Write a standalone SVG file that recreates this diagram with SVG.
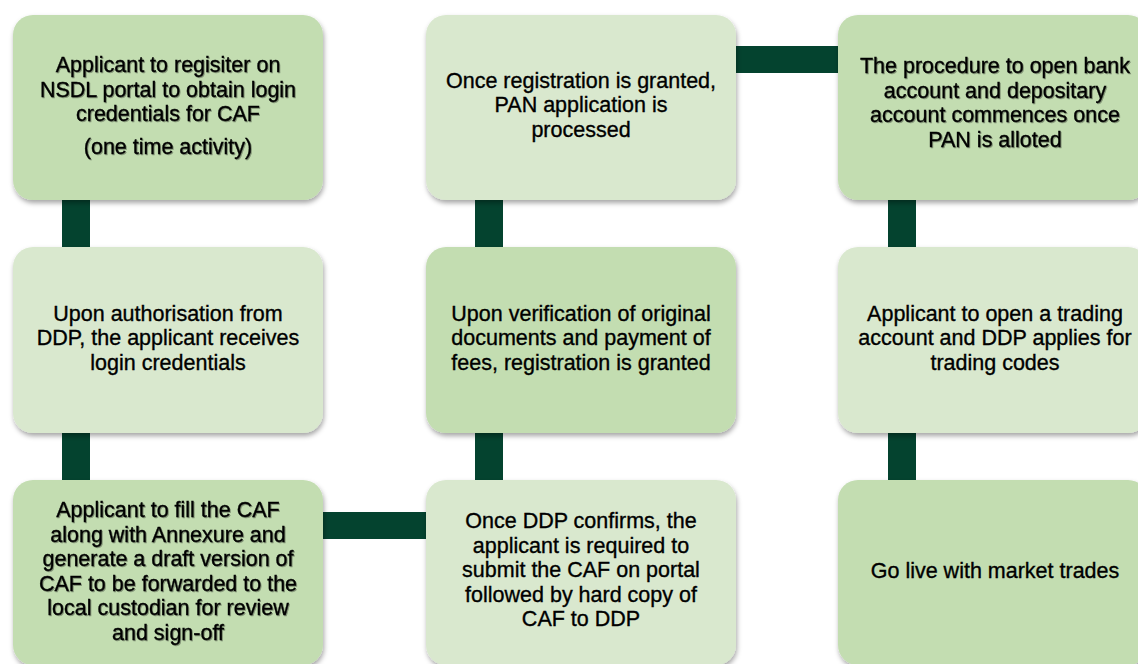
<svg xmlns="http://www.w3.org/2000/svg" width="1138" height="664" viewBox="0 0 1138 664">
<defs>
<filter id="sh" x="-10%" y="-10%" width="125%" height="130%">
<feDropShadow dx="1" dy="3" stdDeviation="2.5" flood-color="#000" flood-opacity="0.35"/>
</filter>
<filter id="tsh" x="-5%" y="-10%" width="110%" height="120%">
<feDropShadow dx="1" dy="1" stdDeviation="0.6" flood-color="#000" flood-opacity="0.35"/>
</filter>
<style>
.dark{fill:#C3DDB1;filter:url(#sh)}
.light{fill:#D9E8CE;filter:url(#sh)}
.conn{fill:#04432F}
text{font-family:"Liberation Sans",Arial,sans-serif;font-size:21.5px;fill:#000;stroke:#000;stroke-width:0.35;text-anchor:middle}
.ts{filter:url(#tsh)}
</style>
</defs>
<rect width="1138" height="664" fill="#fff"/>
<g id="connectors">
<rect class="conn" x="62" y="195" width="28" height="57"/>
<rect class="conn" x="62" y="428" width="28" height="57"/>
<rect class="conn" x="475" y="195" width="28" height="57"/>
<rect class="conn" x="475" y="428" width="28" height="57"/>
<rect class="conn" x="888" y="195" width="28" height="57"/>
<rect class="conn" x="888" y="428" width="28" height="57"/>
<rect class="conn" x="730" y="46" width="114" height="27"/>
<rect class="conn" x="318" y="512" width="114" height="27"/>
</g>
<g id="n1">
<rect class="dark" x="13" y="15" width="310" height="185" rx="20"/>
<text class="ts"><tspan x="168" y="72">Applicant to regisiter on</tspan><tspan x="168" y="96.5">NSDL portal to obtain login</tspan><tspan x="168" y="121">credentials for CAF</tspan><tspan x="168" y="154">(one time activity)</tspan></text>
</g>
<g id="n2">
<rect class="light" x="13" y="247" width="310" height="186" rx="20"/>
<text><tspan x="168" y="320.5">Upon authorisation from</tspan><tspan x="168" y="345">DDP, the applicant receives</tspan><tspan x="168" y="369.5">login credentials</tspan></text>
</g>
<g id="n3">
<rect class="dark" x="13" y="480" width="310" height="185" rx="20"/>
<text class="ts"><tspan x="168" y="517">Applicant to fill the CAF</tspan><tspan x="168" y="541.5">along with Annexure and</tspan><tspan x="168" y="566">generate a draft version of</tspan><tspan x="168" y="590.5">CAF to be forwarded to the</tspan><tspan x="168" y="615">local custodian for review</tspan><tspan x="168" y="639.5">and sign-off</tspan></text>
</g>
<g id="n4">
<rect class="light" x="426" y="15" width="310" height="185" rx="20"/>
<text><tspan x="581" y="87.5">Once registration is granted,</tspan><tspan x="581" y="112">PAN application is</tspan><tspan x="581" y="136.5">processed</tspan></text>
</g>
<g id="n5">
<rect class="dark" x="426" y="247" width="310" height="186" rx="20"/>
<text><tspan x="581" y="320.5">Upon verification of original</tspan><tspan x="581" y="345">documents and payment of</tspan><tspan x="581" y="369.5">fees, registration is granted</tspan></text>
</g>
<g id="n6">
<rect class="light" x="426" y="480" width="310" height="185" rx="20"/>
<text><tspan x="581" y="528">Once DDP confirms, the</tspan><tspan x="581" y="552.5">applicant is required to</tspan><tspan x="581" y="577">submit the CAF on portal</tspan><tspan x="581" y="601.5">followed by hard copy of</tspan><tspan x="581" y="626">CAF to DDP</tspan></text>
</g>
<g id="n7">
<rect class="dark" x="838" y="15" width="310" height="185" rx="20"/>
<text class="ts"><tspan x="995" y="73">The procedure to open bank</tspan><tspan x="995" y="97.5">account and depositary</tspan><tspan x="995" y="122">account commences once</tspan><tspan x="995" y="146.5">PAN is alloted</tspan></text>
</g>
<g id="n8">
<rect class="light" x="838" y="247" width="310" height="186" rx="20"/>
<text><tspan x="995" y="320.5">Applicant to open a trading</tspan><tspan x="995" y="345">account and DDP applies for</tspan><tspan x="995" y="369.5">trading codes</tspan></text>
</g>
<g id="n9">
<rect class="dark" x="838" y="480" width="310" height="185" rx="20"/>
<text x="995" y="578">Go live with market trades</text>
</g>
</svg>
